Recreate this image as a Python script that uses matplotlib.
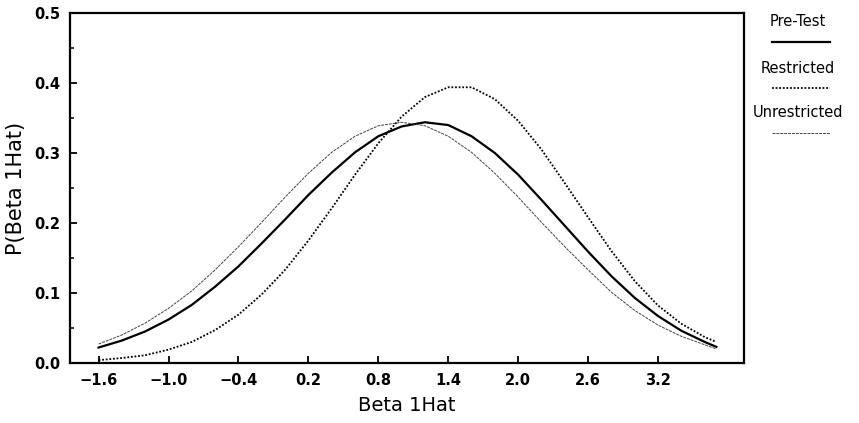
import numpy as np
import matplotlib
matplotlib.use("Agg")
import matplotlib.pyplot as plt
from matplotlib.lines import Line2D

# values
beta = [-1.6, -1.4, -1.2, -1.0, -0.8, -0.6, -0.4, -0.2, 0.0, 0.2, 0.4, 0.6, 0.8, 1.0,
        1.2, 1.4, 1.6, 1.8, 2.0, 2.2, 2.4, 2.6, 2.8, 3.0, 3.2, 3.4, 3.6, 3.7]

pre_test = [0.022, 0.032, 0.045, 0.062, 0.083, 0.109, 0.138, 0.171, 0.205, 0.240,
            0.272, 0.301, 0.324, 0.338, 0.344, 0.340, 0.324, 0.300, 0.269, 0.233,
            0.196, 0.159, 0.124, 0.093, 0.067, 0.046, 0.030, 0.023]

restricted = [0.004, 0.007, 0.011, 0.019, 0.030, 0.047, 0.069, 0.098, 0.133, 0.175,
              0.221, 0.269, 0.314, 0.352, 0.380, 0.394, 0.394, 0.377, 0.346, 0.305,
              0.257, 0.208, 0.160, 0.117, 0.082, 0.056, 0.037, 0.030]

unrestricted = [0.027, 0.040, 0.057, 0.078, 0.103, 0.133, 0.166, 0.201, 0.237, 0.271,
                0.301, 0.324, 0.339, 0.344, 0.339, 0.324, 0.301, 0.271, 0.237, 0.201,
                0.166, 0.133, 0.101, 0.075, 0.054, 0.038, 0.026, 0.020]

series_names = ["Pre-Test", "Restricted", "Unrestricted"]
x_ticks = [-1.6, -1.0, -0.4, 0.2, 0.8, 1.4, 2.0, 2.6, 3.2]
y_ticks = [0.0, 0.1, 0.2, 0.3, 0.4, 0.5]

styles = [
    dict(color="black", lw=1.6, ls="-"),
    dict(color="black", lw=1.3, ls=(0, (1, 1))),
    dict(color="#444444", lw=0.7, ls=(0, (3, 1))),
]

fig = plt.figure(figsize=(8.59, 4.23), dpi=100)
ax = fig.add_axes([0.0815, 0.142, 0.785, 0.827])

for vals, st in zip([pre_test, restricted, unrestricted], styles):
    ax.plot(beta, vals, **st)

ax.set_xlim(-1.845, 3.94)
ax.set_ylim(0, 0.5)
ax.set_xticks(x_ticks)
ax.set_xticklabels([f"{t:.1f}".replace("-", "\u2212") for t in x_ticks])
ax.set_yticks(y_ticks)
ax.set_yticklabels([f"{t:.1f}" for t in y_ticks])
ax.set_yticks(np.arange(0.05, 0.5, 0.1), minor=True)
ax.tick_params(direction="in", length=5, width=1.3, labelsize=10.5, pad=7)
ax.tick_params(axis="y", which="minor", direction="in", length=3, width=1.1)
for lab in ax.get_xticklabels() + ax.get_yticklabels():
    lab.set_fontweight("bold")
for sp in ax.spines.values():
    sp.set_linewidth(1.6)

ax.set_xlabel("Beta 1Hat", fontsize=14, labelpad=6)
ax.set_ylabel("P(Beta 1Hat)", fontsize=15, labelpad=6)

# legend drawn at the right, names above line samples
text_y = [0.948, 0.838, 0.733]
line_y = [0.901, 0.793, 0.686]
for name, st, ty, ly in zip(series_names, styles, text_y, line_y):
    fig.text(0.929, ty, name, ha="center", va="center", fontsize=10.5)
    fig.add_artist(Line2D([0.899, 0.966], [ly, ly], transform=fig.transFigure, **st))

fig.savefig("out.png", dpi=100)
